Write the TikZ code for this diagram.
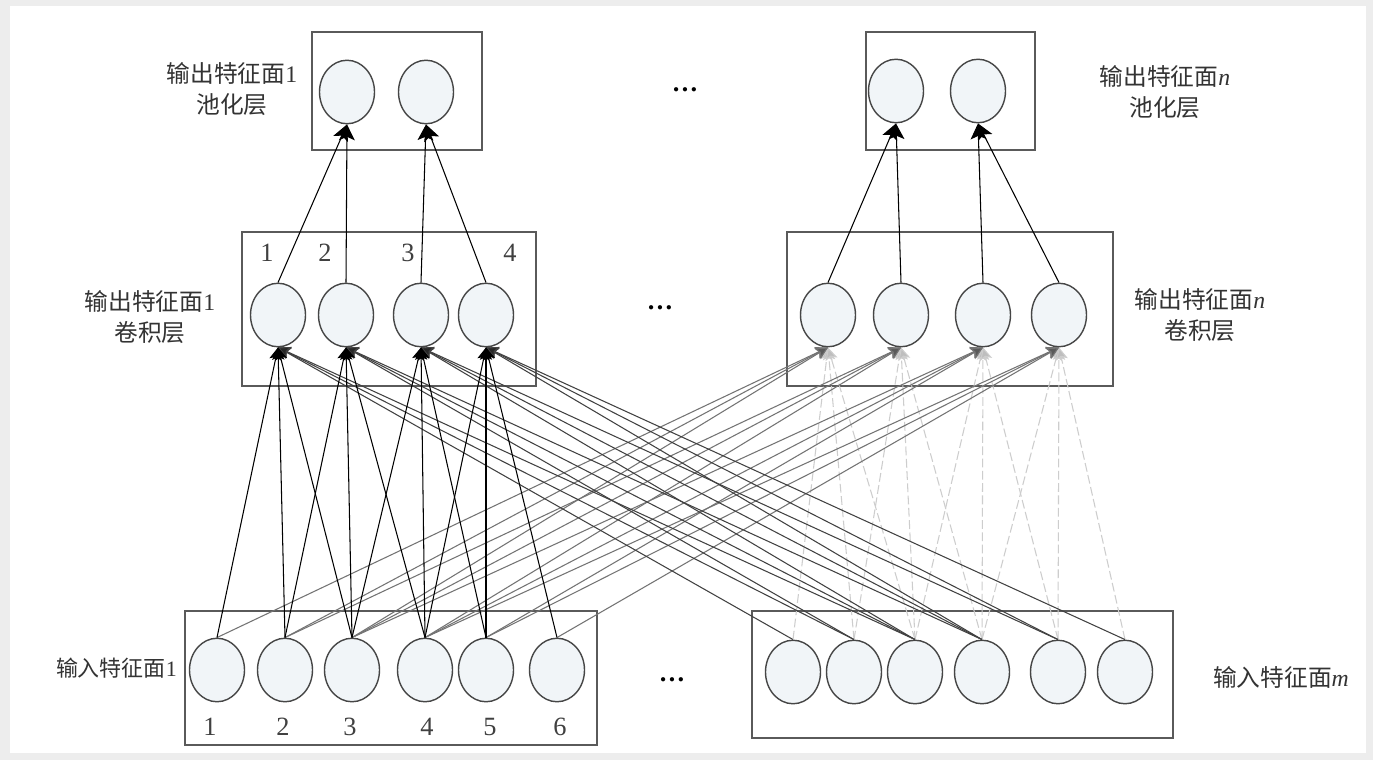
\documentclass[tikz,border=0pt]{standalone}
\usepackage{fontspec}
\setmainfont{Liberation Serif}
\newfontfamily\cjk{Noto Sans CJK SC}
\usetikzlibrary{shapes.geometric,arrows.meta}
\definecolor{cellfill}{RGB}{241,245,248}
\definecolor{edge}{RGB}{70,70,70}
\definecolor{boxline}{RGB}{90,90,90}
\definecolor{darkln}{RGB}{65,65,65}
\definecolor{midln}{RGB}{115,115,115}
\definecolor{midtip}{RGB}{90,90,90}
\definecolor{lightln}{RGB}{205,205,205}
\definecolor{lighttip}{RGB}{190,190,190}
\tikzset{
  cell/.style={ellipse,draw=edge,line width=0.8pt,fill=cellfill,minimum width=1.1cm,minimum height=1.27cm,inner sep=0pt},
  layerbox/.style={draw=boxline,line width=0.8pt},
  lbl/.style={font=\fontsize{13.5}{18}\selectfont,align=center,text=black!80},
  num/.style={font=\fontsize{15}{18}\selectfont,text=black!75},
  dots/.style={font=\fontsize{15}{18}\selectfont\bfseries},
  tipA/.style={-{Stealth[length=7pt,width=7pt,inset=1.5pt]}},
  poolln/.style={-{Stealth[length=9pt,width=9pt,inset=2pt]},line width=0.6pt,draw=black},
  blackln/.style={tipA,line width=0.6pt,draw=black},
  darkgln/.style={-{Stealth[length=7pt,width=7pt,inset=1.5pt,fill=black!85]},line width=0.6pt,draw=darkln},
  greyln/.style={-{Stealth[length=7pt,width=7pt,inset=1.5pt,fill=midtip]},line width=0.6pt,draw=midln},
  lightln/.style={-{Stealth[length=7pt,width=7pt,inset=1.5pt,fill=lighttip]},line width=0.6pt,draw=lightln,dash pattern=on 5pt off 2pt},
}
\begin{document}
\begin{tikzpicture}[x=0.02cm,y=-0.02cm]
\useasboundingbox (0,0) rectangle (1373,760);
\fill[black!7] (0,0) rectangle (1373,760);
\fill[white] (10,6) rectangle (1366,753);
% boxes
\draw[layerbox] (312,32) rectangle (482,150);
\draw[layerbox] (866,32) rectangle (1035,150);
\draw[layerbox] (242,232) rectangle (536,386);
\draw[layerbox] (787,232) rectangle (1113,386);
\draw[layerbox] (185,611) rectangle (597,745);
\draw[layerbox] (752,611) rectangle (1173,738);
% cells
\foreach \x [count=\i] in {217,285,352,425,486,557} \node[cell] (li\i) at (\x,670) {};
\foreach \x [count=\i] in {793,854,915,982,1058,1125} \node[cell] (ri\i) at (\x,672) {};
\foreach \x [count=\i] in {278,346,421,486} \node[cell] (lc\i) at (\x,315) {};
\foreach \x [count=\i] in {828,901,983,1059} \node[cell] (rc\i) at (\x,315) {};
\foreach \x [count=\i] in {347,426} \node[cell] (lp\i) at (\x,92) {};
\foreach \x [count=\i] in {896,978} \node[cell] (rp\i) at (\x,91) {};
% connections: right inputs -> right conv (light dashed)
\foreach \k in {1,...,4} \foreach \j in {0,1,2} {
  \pgfmathtruncatemacro\i{\k+\j}
  \draw[lightln] (ri\i.north) -- (rc\k.south);
}
% left inputs -> right conv (grey)
\foreach \k in {1,...,4} \foreach \j in {0,1,2} {
  \pgfmathtruncatemacro\i{\k+\j}
  \draw[greyln] (li\i.north) -- (rc\k.south);
}
% right inputs -> left conv (dark grey)
\foreach \k in {1,...,4} \foreach \j in {0,1,2} {
  \pgfmathtruncatemacro\i{\k+\j}
  \draw[darkgln] (ri\i.north) -- (lc\k.south);
}
% left inputs -> left conv (black)
\foreach \k in {1,...,4} \foreach \j in {0,1,2} {
  \pgfmathtruncatemacro\i{\k+\j}
  \draw[blackln] (li\i.north) -- (lc\k.south);
}
% conv -> pool
\draw[poolln] (lc1.north) -- (lp1.south);
\draw[poolln] (lc2.north) -- (lp1.south);
\draw[poolln] (lc3.north) -- (lp2.south);
\draw[poolln] (lc4.north) -- (lp2.south);
\draw[poolln] (rc1.north) -- (rp1.south);
\draw[poolln] (rc2.north) -- (rp1.south);
\draw[poolln] (rc3.north) -- (rp2.south);
\draw[poolln] (rc4.north) -- (rp2.south);
% numbers
\foreach \x [count=\i] in {267,325,408,510} \node[num] (cn\i) at (\x,253) {\i};
\foreach \x [count=\i] in {210,283,350,427,490,560} \node[num] (in\i) at (\x,727) {\i};
% labels
\node[lbl] (lab1) at (232,89) {{\cjk 输出特征面}1\\{\cjk 池化层}};
\node[lbl] (lab2) at (1165,92) {{\cjk 输出特征面}\textit{n}\\{\cjk 池化层}};
\node[lbl] (lab3) at (150,317) {{\cjk 输出特征面}1\\{\cjk 卷积层}};
\node[lbl] (lab4) at (1200,315) {{\cjk 输出特征面}\textit{n}\\{\cjk 卷积层}};
\node[lbl,font=\fontsize{12.5}{18}\selectfont,anchor=east] (lab5) at (183,668) {{\cjk 输入特征面}1};
\node[lbl] (lab6) at (1281,677) {{\cjk 输入特征面}\textit{m}};
% ellipses
\node[dots] (d1) at (685,90) {\ldots};
\node[dots] (d2) at (660,308) {\ldots};
\node[dots] (d3) at (672,680) {\ldots};
\end{tikzpicture}
\end{document}
